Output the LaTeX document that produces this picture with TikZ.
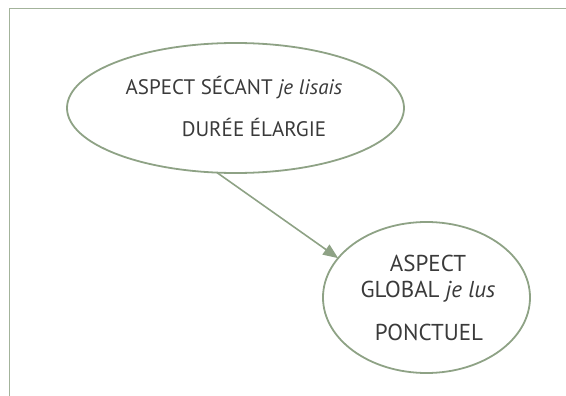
\documentclass[tikz,border=0pt]{standalone}
\usepackage{fontspec}
\setmainfont{PT Sans}
\usetikzlibrary{shapes.geometric,arrows.meta}
\definecolor{linegreen}{HTML}{8EA285}
\definecolor{framegreen}{HTML}{A3B39B}
\definecolor{txt}{HTML}{3A3A3A}
\tikzset{
  bubble/.style={ellipse, draw=linegreen, line width=1.8pt, inner sep=0pt, outer sep=0pt},
  lbl/.style={anchor=base, inner sep=0pt, text=txt},
  conn/.style={draw=linegreen, line width=1.6pt, -{Triangle[length=15pt,width=12pt]}}
}
\begin{document}
\begin{tikzpicture}[x=1pt,y=-1pt]
\useasboundingbox (0,0) rectangle (566,396);
\draw[framegreen, line width=1pt] (9,396) -- (9,9) -- (566,9);
\node[bubble, minimum width=337pt, minimum height=130pt] (e1) at (235.5,108) {};
\node[bubble, minimum width=207pt, minimum height=151pt] (e2) at (426.5,297.5) {};
\node[lbl, font=\fontsize{21}{23}\selectfont] (t1) at (234,95) {ASPECT SÉCANT \textit{je lisais}};
\node[lbl, font=\fontsize{21}{23}\selectfont] (t2) at (254,137) {DURÉE ÉLARGIE};
\node[lbl, font=\fontsize{23}{25}\selectfont] (t3) at (428,272) {ASPECT};
\node[lbl, font=\fontsize{23}{25}\selectfont] (t4) at (428,298) {GLOBAL \textit{je lus}};
\node[lbl, font=\fontsize{23}{25}\selectfont] (t5) at (429,340) {PONCTUEL};
\draw[conn] (e1.254.8) -- (e2.156.5);
\end{tikzpicture}
\end{document}
